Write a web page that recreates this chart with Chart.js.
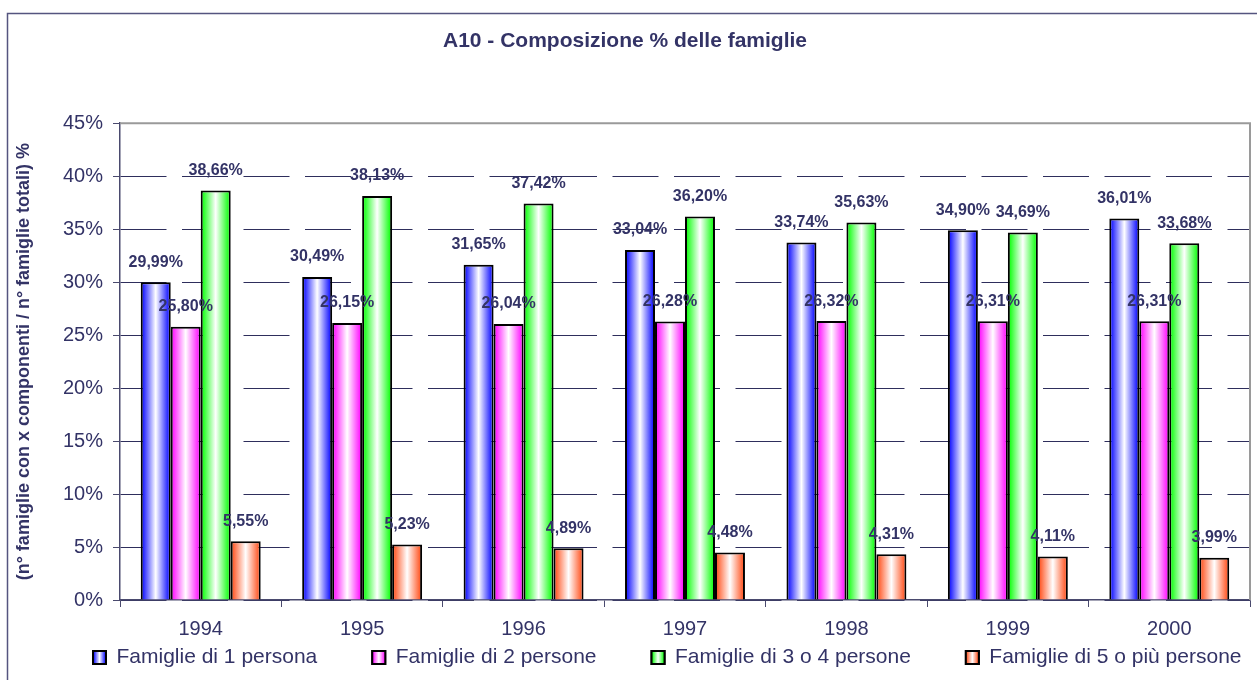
<!DOCTYPE html>
<html lang="it">
<head>
<meta charset="UTF-8">
<title>A10 - Composizione % delle famiglie</title>
<script src="https://cdn.jsdelivr.net/npm/chart.js"></script>
<style>
  html, body { margin: 0; padding: 0; background: #fff; }
  canvas { display: block; }
</style>
</head>
<body>
<canvas id="chart" width="1257" height="680"></canvas>
<script>
// data
const years = ['1994', '1995', '1996', '1997', '1998', '1999', '2000'];
const seriesNames = ['Famiglie di 1 persona', 'Famiglie di 2 persone', 'Famiglie di 3 o 4 persone', 'Famiglie di 5 o più persone'];
const famiglie1 = [29.99, 30.49, 31.65, 33.04, 33.74, 34.90, 36.01];
const famiglie2 = [25.80, 26.15, 26.04, 26.28, 26.32, 26.31, 26.31];
const famiglie34 = [38.66, 38.13, 37.42, 36.20, 35.63, 34.69, 33.68];
const famiglie5 = [5.55, 5.23, 4.89, 4.48, 4.31, 4.11, 3.99];

const navy = '#333366';
const axisColor = '#4a4a6e';
const gridColor = '#2e2e5c';
const edgeColors = ['#2020ff', '#ff20ff', '#20ff20', '#ff5f30'];
const legendFont = 21;

Chart.defaults.font.family = 'Arial, "Liberation Sans", sans-serif';
Chart.defaults.color = navy;

// horizontal "cylinder" shading like the old Excel fill
function shade(ctx, x0, x1, color) {
    const g = ctx.createLinearGradient(x0, 0, x1, 0);
    g.addColorStop(0, color);
    g.addColorStop(0.08, color);
    g.addColorStop(0.5, '#ffffff');
    g.addColorStop(0.92, color);
    g.addColorStop(1, color);
    return g;
}

const fmt = v => v.toFixed(2).replace('.', ',') + '%';

const excelLook = {
    id: 'excelLook',
    beforeDraw(chart) {
        const c = chart.ctx;
        c.save();
        c.strokeStyle = '#55557f';
        c.lineWidth = 1.5;
        c.strokeRect(7.5, 13.5, chart.width + 20, chart.height + 20);
        c.restore();
    },
    afterLayout(chart) {
        // legend sits closer to the axis and starts further right, as in the original
        const lg = chart.legend;
        const pad = lg.options.labels.padding;
        lg.top = 647 - pad;
        lg.left = 93 - pad;
        lg.right = chart.width + 200;
    },
    beforeDatasetsDraw(chart) {
        chart.data.datasets.forEach((ds, i) => {
            chart.getDatasetMeta(i).data.forEach(bar => {
                const {x, width} = bar.getProps(['x', 'width'], true);
                bar.options = Object.assign({}, bar.options, {
                    backgroundColor: shade(chart.ctx, x - width / 2, x + width / 2, edgeColors[i])
                });
            });
        });
    },
    afterDatasetsDraw(chart) {
        const c = chart.ctx;
        c.save();
        c.font = 'bold 16px Arial, "Liberation Sans", sans-serif';
        c.fillStyle = navy;
        c.textAlign = 'center';
        c.textBaseline = 'middle';
        chart.data.datasets.forEach((ds, i) => {
            chart.getDatasetMeta(i).data.forEach((bar, j) => {
                c.fillText(fmt(ds.data[j]), bar.x, bar.y - 20);
            });
        });
        c.restore();
    },
    afterDraw(chart) {
        const c = chart.ctx;
        const a = chart.chartArea;
        c.save();
        c.strokeStyle = '#9a9a9a';
        c.lineWidth = 2;
        c.beginPath();
        c.moveTo(a.left, a.top);
        c.lineTo(a.right, a.top);
        c.lineTo(a.right, a.bottom);
        c.stroke();

        // shaded legend boxes
        const lg = chart.legend;
        const pad = lg.options.labels.padding;
        const bw = 13;
        let x = lg.left + pad;
        const y = lg.top + pad + (legendFont - bw) / 2;
        lg.legendHitBoxes.forEach((hb, i) => {
            c.fillStyle = shade(c, x, x + bw, edgeColors[i]);
            c.fillRect(x, y, bw, bw);
            c.lineWidth = 2;
            c.strokeStyle = '#000';
            c.strokeRect(x, y, bw, bw);
            x += hb.width + pad;
        });
        c.restore();
    }
};

const ctx = document.getElementById('chart').getContext('2d');
const chart = new Chart(ctx, {
    type: 'bar',
    data: {
        labels: years,
        datasets: [
            { label: seriesNames[0], data: famiglie1, backgroundColor: edgeColors[0], borderColor: '#000', borderWidth: 2 },
            { label: seriesNames[1], data: famiglie2, backgroundColor: edgeColors[1], borderColor: '#000', borderWidth: 2 },
            { label: seriesNames[2], data: famiglie34, backgroundColor: edgeColors[2], borderColor: '#000', borderWidth: 2 },
            { label: seriesNames[3], data: famiglie5, backgroundColor: edgeColors[3], borderColor: '#000', borderWidth: 2 }
        ]
    },
    options: {
        responsive: false,
        animation: false,
        layout: { padding: { left: 0, right: 7, top: 0, bottom: 0 } },
        datasets: { bar: { categoryPercentage: 0.743, barPercentage: 1 } },
        plugins: {
            title: {
                display: true,
                text: 'A10 - Composizione % delle famiglie',
                color: navy,
                font: { size: 21, weight: 'bold' },
                padding: { top: 29, bottom: 69 }
            },
            legend: {
                position: 'bottom',
                align: 'start',
                maxHeight: 40,
                labels: {
                    color: navy,
                    font: { size: legendFont },
                    boxWidth: 13,
                    boxHeight: 13,
                    padding: 55
                }
            },
            tooltip: { enabled: false }
        },
        scales: {
            x: {
                grid: { drawOnChartArea: false, color: axisColor, tickLength: 7 },
                border: { color: axisColor, width: 1.5 },
                ticks: { color: navy, font: { size: 20 }, padding: 10, maxRotation: 0, autoSkip: false },
                afterFit: s => { s.height = 40; }
            },
            y: {
                min: 0,
                max: 45,
                ticks: { stepSize: 5, callback: v => v + '%', color: navy, font: { size: 20 }, padding: 10 },
                grid: { color: gridColor, tickColor: axisColor, tickLength: 7, tickBorderDash: [] },
                border: { color: axisColor, width: 1.5, dash: [46, 15.5] },
                title: {
                    display: true,
                    text: '(n° famiglie con x componenti / n° famiglie totali) %',
                    color: navy,
                    font: { size: 18, weight: 'bold' },
                    padding: { top: 13, bottom: 0 }
                },
                afterFit: s => { s.width = 120; }
            }
        }
    },
    plugins: [excelLook]
});
</script>
</body>
</html>
